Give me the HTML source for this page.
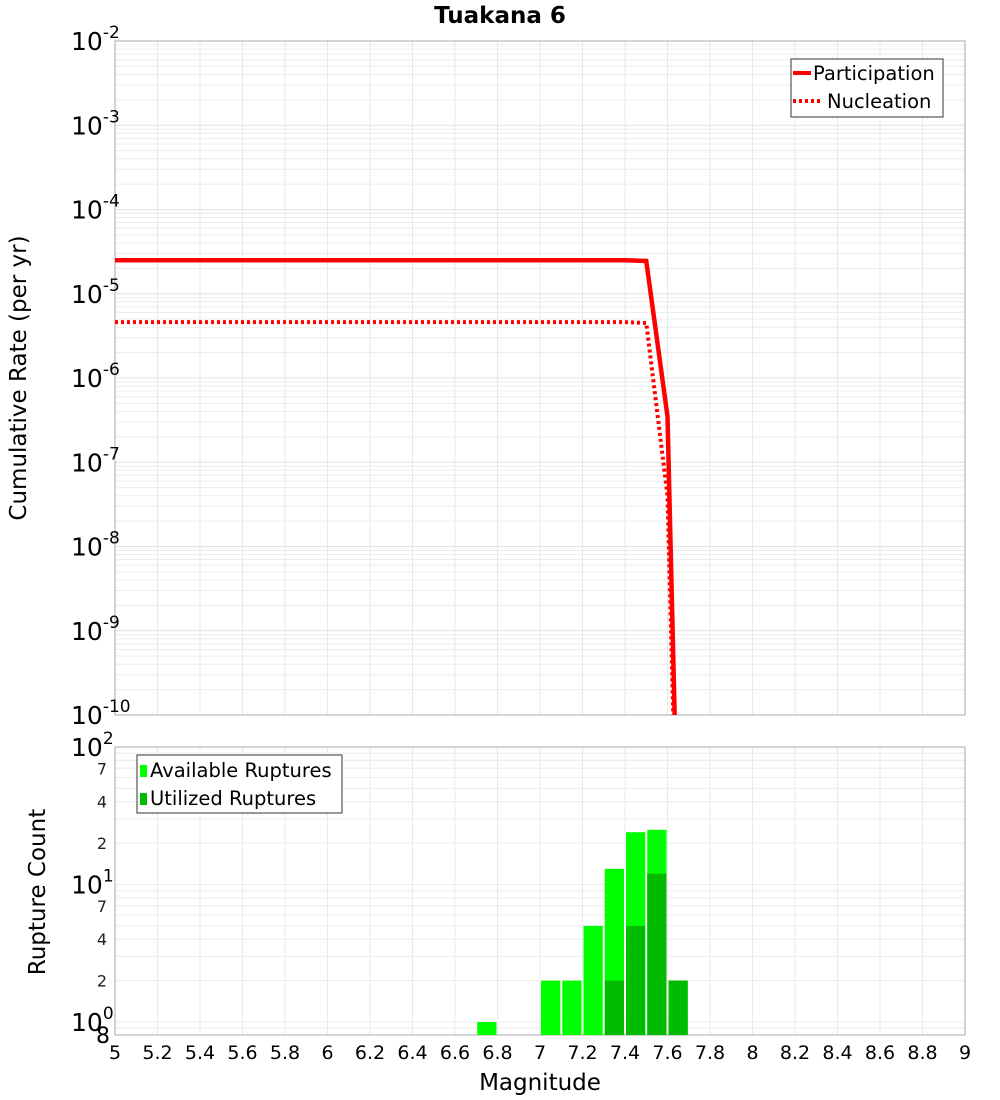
<!DOCTYPE html>
<html><head><meta charset="utf-8"><style>
html,body{margin:0;padding:0;background:#fff;overflow:hidden;width:1000px;height:1100px}
svg{display:block}
</style></head><body>
<svg id="c" width="1000" height="1100" xmlns="http://www.w3.org/2000/svg" font-family="DejaVu Sans, Liberation Sans, sans-serif"></svg>
<script>
const mags=[5,7.4,7.5,7.6,7.7];
const partRates=[2.5e-5,2.5e-5,2.45e-5,3.5e-7,1e-17];
const nuclRates=[4.6e-6,4.6e-6,4.5e-6,4e-8,1e-17];
const binStarts=[6.7,7.0,7.1,7.2,7.3,7.4,7.5,7.6];
const availCounts=[1,2,2,5,13,24,25,2];
const usedCounts=[0,0,0,0,2,5,12,2];
const xTicks=[5,5.2,5.4,5.6,5.8,6,6.2,6.4,6.6,6.8,7,7.2,7.4,7.6,7.8,8,8.2,8.4,8.6,8.8,9];

const svg=document.getElementById('c');const NS='http://www.w3.org/2000/svg';
function el(t,a,p){const e=document.createElementNS(NS,t);for(const k in a)e.setAttribute(k,a[k]);(p||svg).appendChild(e);return e;}
const L=115,R=965,T1=41,B1=715,T2=747,B2=1035;
const X=m=>L+(m-5)/4*(R-L);
const Y1=v=>T1+(-2-Math.log10(v))*(B1-T1)/8;
const Y2=v=>1022-Math.log10(v)*137.5;
let g=el('g',{});
for(let d=-10;d<-2;d++)for(let k=1;k<10;k++){const y=Y1(k*Math.pow(10,d));el('line',{x1:L,x2:R,y1:y,y2:y,stroke:k==1?'#e0e0e0':'#ececec','stroke-width':1},g);}
xTicks.forEach(t=>{el('line',{x1:X(t),x2:X(t),y1:T1,y2:B1,stroke:'#e8e8e8'},g);el('line',{x1:X(t),x2:X(t),y1:T2,y2:B2,stroke:'#e8e8e8'},g);});
for(let d=-1;d<2;d++)for(let k=1;k<10;k++){const y=Y2(k*Math.pow(10,d));if(y>T2&&y<B2)el('line',{x1:L,x2:R,y1:y,y2:y,stroke:'#ececec'},g);}
let f=el('rect',{x:L,y:T1,width:R-L,height:B1-T1,fill:'none',stroke:'#aaa'});
f=el('rect',{x:L,y:T2,width:R-L,height:B2-T2,fill:'none',stroke:'#aaa'});
for(let d=-10;d<=-2;d++){const t=el('text',{x:71,y:Y1(Math.pow(10,d))+9,'font-size':25,fill:'#000'});
t.textContent='10';const s=el('tspan',{dy:-12,'font-size':17},t);s.textContent=String(d);}
const cp=el('clipPath',{id:'cp1'});el('rect',{x:L,y:T1,width:R-L,height:B1-T1},cp);
function line(vals,dash,name){const p=el('polyline',{points:mags.map((m,i)=>X(m)+','+Y1(vals[i])).join(' '),fill:'none',stroke:'#ff0000','stroke-width':dash?4:4.5,'clip-path':'url(#cp1)'});if(dash)p.setAttribute('stroke-dasharray','3,3');}
line(partRates,false,'participation-line');line(nuclRates,true,'nucleation-line');
let lg=el('g',{});
el('rect',{x:791,y:59,width:152,height:58,fill:'#fff',stroke:'#333'},lg);
el('line',{x1:793,x2:811,y1:73,y2:73,stroke:'#f00','stroke-width':4},lg);
el('line',{x1:793,x2:823,y1:101,y2:101,stroke:'#f00','stroke-width':4,'stroke-dasharray':'3,3'},lg);
let tt=el('text',{x:813,y:80,'font-size':19.5},lg);tt.textContent='Participation';
tt=el('text',{x:827,y:108,'font-size':19.5},lg);tt.textContent='Nucleation';
binStarts.forEach((b,i)=>{const x0=X(b)+1,w=X(b+0.1)-X(b)-2;
let r=el('rect',{x:x0,y:Y2(availCounts[i]),width:w,height:B2-Y2(availCounts[i]),fill:'#00ff00'});
if(usedCounts[i]>0){r=el('rect',{x:x0,y:Y2(usedCounts[i]),width:w,height:B2-Y2(usedCounts[i]),fill:'#00bb00'});}});
[[100,'2'],[10,'1'],[1,'0']].forEach(([v,e])=>{const t=el('text',{x:71,y:Y2(v)+9,'font-size':25});t.textContent='10';const s=el('tspan',{dy:-12,'font-size':17},t);s.textContent=e;});
[70,40,20,7,4,2].forEach(v=>{const t=el('text',{x:102,y:Y2(v)+6,'font-size':16,'text-anchor':'middle',fill:'#222'});t.textContent=String(v).replace(/0$/,'');});
tt=el('text',{x:96,y:1043,'font-size':22});tt.textContent='8';
lg=el('g',{});
el('rect',{x:137,y:755,width:205,height:58,fill:'#fff',stroke:'#333'},lg);
el('rect',{x:140,y:765,width:7,height:12,fill:'#00ff00'},lg);el('rect',{x:140,y:793,width:7,height:12,fill:'#00bb00'},lg);
tt=el('text',{x:150,y:777,'font-size':19.5},lg);tt.textContent='Available Ruptures';
tt=el('text',{x:150,y:805,'font-size':19.5},lg);tt.textContent='Utilized Ruptures';
xTicks.forEach(t=>{const s=el('text',{x:X(t),y:1059,'font-size':19,'text-anchor':'middle'});s.textContent=String(t);});
tt=el('text',{x:500,y:23,'font-size':23,'font-weight':'bold','text-anchor':'middle'});tt.textContent='Tuakana 6';
tt=el('text',{x:540,y:1090,'font-size':23,'text-anchor':'middle'});tt.textContent='Magnitude';
tt=el('text',{x:0,y:0,'font-size':23,'text-anchor':'middle',transform:'translate(26,378) rotate(-90)'});tt.textContent='Cumulative Rate (per yr)';
tt=el('text',{x:0,y:0,'font-size':23,'text-anchor':'middle',transform:'translate(45,892) rotate(-90)'});tt.textContent='Rupture Count';
</script>
</body></html>
